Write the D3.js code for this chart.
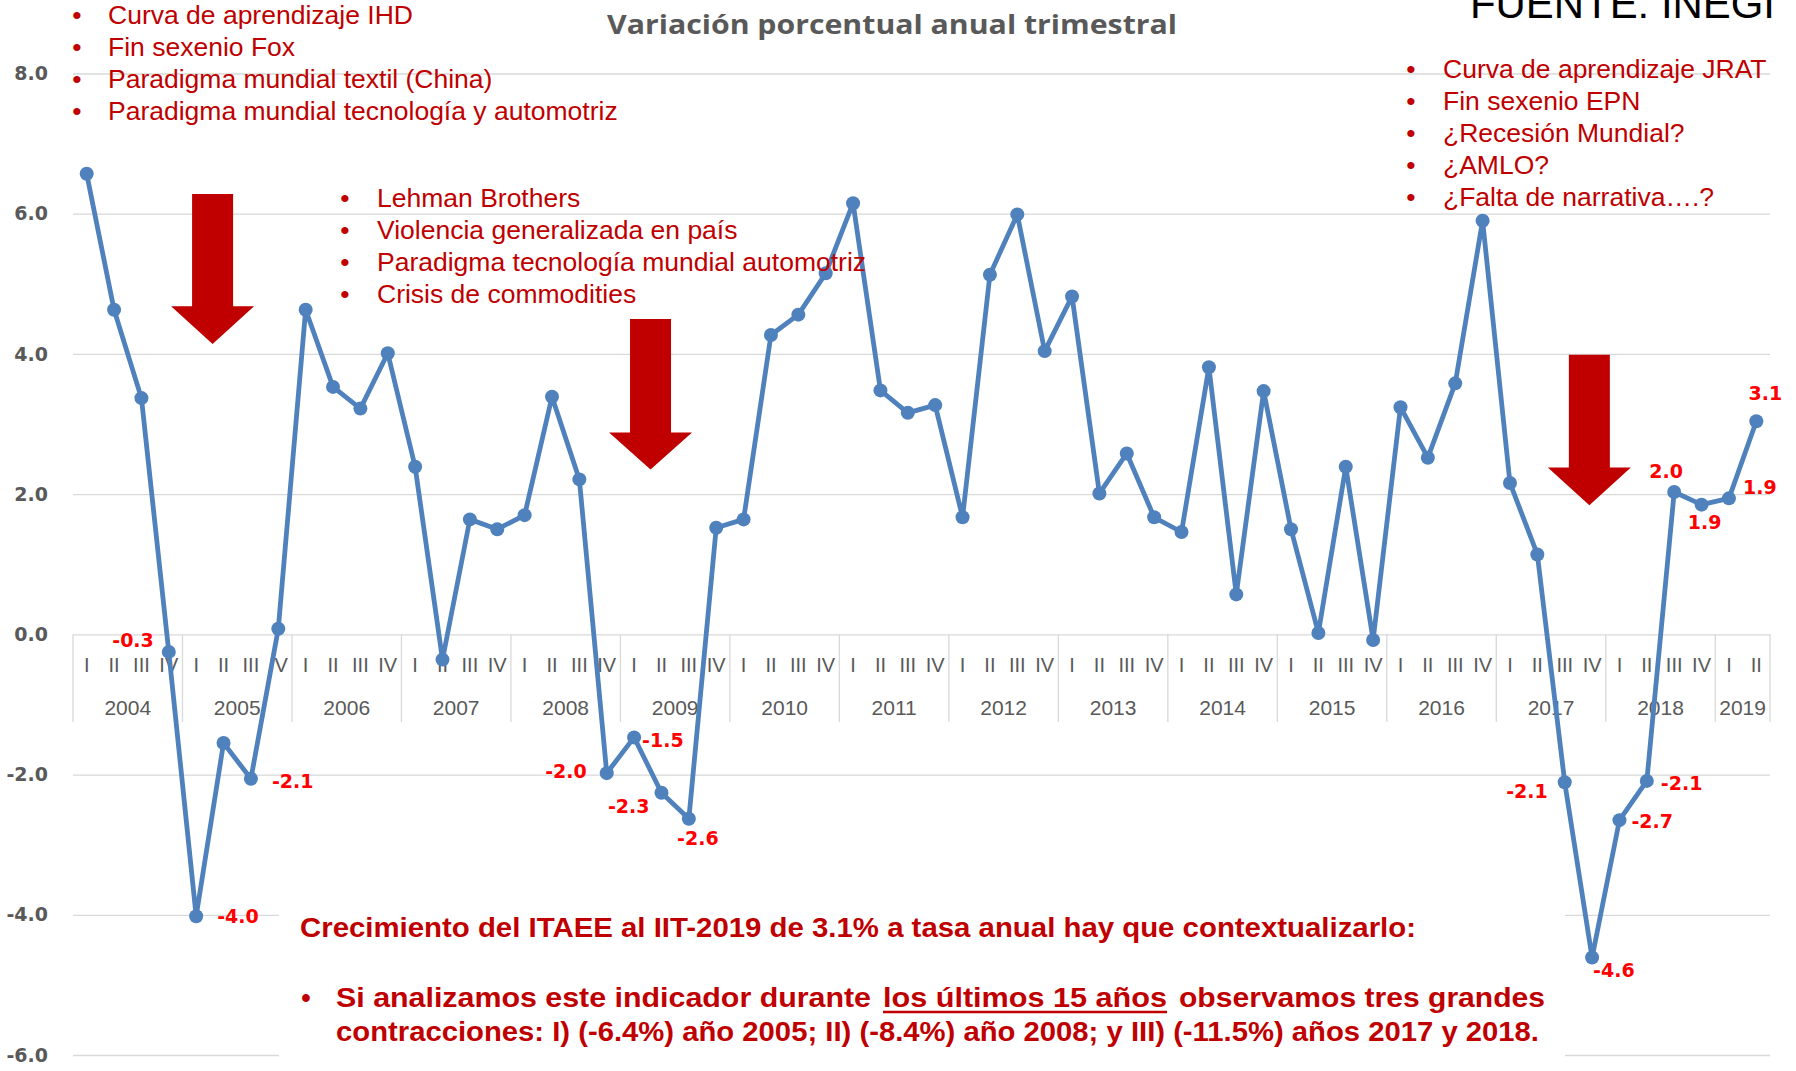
<!DOCTYPE html>
<html>
<head>
<meta charset="utf-8">
<script src="https://cdn.jsdelivr.net/npm/d3@7.9.0/dist/d3.min.js"></script>
<style>
  html, body { margin: 0; padding: 0; background: #fff; }
  svg { display: block; }
</style>
</head>
<body>
<svg id="chart" width="1796" height="1071"></svg>
<script>
// data
const years = ['2004', '2005', '2006', '2007', '2008', '2009', '2010', '2011',
  '2012', '2013', '2014', '2015', '2016', '2017', '2018', '2019'];
const quarters = ['I', 'II', 'III', 'IV'];
const values = [
  6.57, 4.63, 3.37, -0.25,
  -4.02, -1.55, -2.06, 0.08,
  4.63, 3.53, 3.22, 4.01,
  2.39, -0.36, 1.64, 1.50,
  1.70, 3.39, 2.21, -1.98,
  -1.47, -2.26, -2.63, 1.52,
  1.64, 4.27, 4.56, 5.15,
  6.15, 3.48, 3.16, 3.27,
  1.67, 5.13, 5.99, 4.04,
  4.82, 2.01, 2.58, 1.67,
  1.46, 3.81, 0.57, 3.47,
  1.50, 0.02, 2.39, -0.08,
  3.24, 2.52, 3.58, 5.90,
  2.16, 1.14, -2.11, -4.61,
  -2.65, -2.09, 2.03, 1.85,
  1.94, 3.04
];
const yTicks = [8, 6, 4, 2, 0, -2, -4, -6];
const labelIdx  = [3, 4, 6, 19, 20, 21, 22, 54, 55, 56, 57, 58, 59, 60, 61];
const labelText = ['-0.3', '-4.0', '-2.1', '-2.0', '-1.5', '-2.3', '-2.6',
  '-2.1', '-4.6', '-2.7', '-2.1', '2.0', '1.9', '1.9', '3.1'];

const title = 'Variación porcentual anual trimestral';
const source = 'FUENTE: INEGI';
const notesLeft = ['Curva de aprendizaje IHD', 'Fin sexenio Fox',
  'Paradigma mundial textil (China)', 'Paradigma mundial tecnología y automotriz'];
const notesMiddle = ['Lehman Brothers', 'Violencia generalizada en país',
  'Paradigma tecnología mundial automotriz', 'Crisis de commodities'];
const notesRight = ['Curva de aprendizaje JRAT', 'Fin sexenio EPN',
  '¿Recesión Mundial?', '¿AMLO?', '¿Falta de narrativa….?'];
const summary = 'Crecimiento del ITAEE al IIT-2019 de 3.1% a tasa anual hay que contextualizarlo:';
const bulletParts = ['Si analizamos este indicador durante', 'los últimos 15 años', 'observamos tres grandes'];
const bulletLine2 = 'contracciones: I) (-6.4%) año 2005; II) (-8.4%) año 2008; y III) (-11.5%) años 2017 y 2018.';

// arrows: position in category units, values in chart units
const arrowAt   = [4.6, 20.6, 54.9];
const arrowTop  = [6.28, 4.50, 3.99];
const arrowNeck = [4.68, 2.88, 2.38];
const arrowTip  = [4.14, 2.35, 1.84];

const svg = d3.select('#chart');
const left = 73, right = 1770;

const x = d3.scalePoint()
  .domain(d3.range(values.length))
  .range([left, right])
  .padding(0.5);
const step = x.step();
const y = d3.scaleLinear().domain([-6, 8]).range([1055, 73.5]);

const red = '#c00000';
const blue = '#4f81bd';
const gray = '#595959';
const fmt = d => d3.format('.1f')(d).replace('−', '-');

svg.append('rect').attr('width', 1796).attr('height', 1071).attr('fill', '#fff');

// grid + y labels
const yAxis = svg.append('g')
  .attr('transform', `translate(${left},0)`)
  .call(d3.axisLeft(y)
    .tickValues(yTicks)
    .tickSize(-(right - left))
    .tickPadding(25)
    .tickFormat(fmt));
yAxis.select('.domain').remove();
yAxis.selectAll('line').attr('stroke', '#d9d9d9').attr('stroke-width', 1.3);
yAxis.selectAll('text')
  .attr('fill', gray)
  .style('font', 'bold 19px "DejaVu Sans"');

// x axis: year separators
const y0 = y(0);
const yearStart = years.map((d, k) => x(k * 4) - step / 2);
const yearEnd = years.map((d, k) => Math.min(x(Math.min(k * 4 + 3, values.length - 1)) + step / 2, right));
svg.append('g').selectAll('line')
  .data(yearStart.concat([yearEnd[yearEnd.length - 1]]))
  .join('line')
  .attr('x1', d => d).attr('x2', d => d)
  .attr('y1', y0).attr('y2', 722)
  .attr('stroke', '#d9d9d9').attr('stroke-width', 1.3);

svg.append('g').selectAll('text')
  .data(values)
  .join('text')
  .attr('x', (d, i) => x(i))
  .attr('y', 665)
  .attr('text-anchor', 'middle')
  .attr('dominant-baseline', 'central')
  .attr('fill', gray)
  .style('font', '20px "Liberation Sans"')
  .text((d, i) => quarters[i % 4]);

svg.append('g').selectAll('text')
  .data(years)
  .join('text')
  .attr('x', (d, k) => (yearStart[k] + yearEnd[k]) / 2)
  .attr('y', 707)
  .attr('text-anchor', 'middle')
  .attr('dominant-baseline', 'central')
  .attr('fill', gray)
  .style('font', '21px "Liberation Sans"')
  .text(d => d);

// white box behind the summary text
svg.append('rect')
  .attr('x', 279).attr('y', 888).attr('width', 1565 - 279).attr('height', 1071 - 888)
  .attr('fill', '#fff');

// arrows
svg.append('g').selectAll('path')
  .data(arrowAt)
  .join('path')
  .attr('fill', red)
  .attr('d', (a, i) => {
    const cx = x(Math.floor(a)) + (a - Math.floor(a)) * step;
    const t = y(arrowTop[i]), n = y(arrowNeck[i]), p = y(arrowTip[i]);
    return `M${cx - 20.5},${t}H${cx + 20.5}V${n}H${cx + 41.5}L${cx},${p}L${cx - 41.5},${n}H${cx - 20.5}Z`;
  });

// series
svg.append('path')
  .datum(values)
  .attr('fill', 'none')
  .attr('stroke', blue)
  .attr('stroke-width', 4.8)
  .attr('stroke-linejoin', 'round')
  .attr('d', d3.line().x((d, i) => x(i)).y(d => y(d)));

svg.append('g').selectAll('circle')
  .data(values)
  .join('circle')
  .attr('cx', (d, i) => x(i))
  .attr('cy', d => y(d))
  .attr('r', 7)
  .attr('fill', blue);

// data labels: [dx, dy, anchor]
const labelPlace = [
  [-15, -12, 'end'], [21, 0, 'start'], [21, 2, 'start'], [-20, -2, 'end'],
  [8, 3, 'start'], [-12, 13, 'end'], [9, 19, 'middle'], [-17, 9, 'end'],
  [1, 12, 'start'], [12, 1, 'start'], [14, 2, 'start'], [-8, -21, 'middle'],
  [3, 17, 'middle'], [14, -11, 'start'], [9, -28, 'middle']
];
svg.append('g').selectAll('text')
  .data(labelIdx)
  .join('text')
  .attr('x', (d, j) => x(d) + labelPlace[j][0])
  .attr('y', (d, j) => y(values[d]) + labelPlace[j][1])
  .attr('text-anchor', (d, j) => labelPlace[j][2])
  .attr('dominant-baseline', 'central')
  .attr('fill', '#ff0000')
  .style('font', 'bold 19px "DejaVu Sans"')
  .text((d, j) => labelText[j]);

// title and source
svg.append('text')
  .attr('x', 892).attr('y', 23)
  .attr('text-anchor', 'middle')
  .attr('dominant-baseline', 'central')
  .attr('fill', gray)
  .attr('textLength', 570).attr('lengthAdjust', 'spacingAndGlyphs')
  .style('font', 'bold 27px "Open Sans"')
  .text(title);

svg.append('text')
  .attr('x', 1470).attr('y', 18)
  .attr('fill', '#000')
  .attr('textLength', 305).attr('lengthAdjust', 'spacingAndGlyphs')
  .style('font', '42px "Liberation Sans"')
  .text(source);

// bullet notes
function notes(list, bx, tx, y1) {
  const g = svg.append('g').style('font', '26.5px "Liberation Sans"').attr('fill', red);
  g.selectAll('text.b').data(list).join('text')
    .attr('class', 'b')
    .attr('x', bx).attr('y', (d, i) => y1 + i * 32)
    .attr('text-anchor', 'middle').attr('dominant-baseline', 'central')
    .text('•');
  g.selectAll('text.t').data(list).join('text')
    .attr('class', 't')
    .attr('x', tx).attr('y', (d, i) => y1 + i * 32)
    .attr('dominant-baseline', 'central')
    .text(d => d);
}
notes(notesLeft, 77, 108, 15);
notes(notesMiddle, 345, 377, 198);
notes(notesRight, 1411, 1443, 69);

// summary text
const sum = svg.append('g')
  .attr('fill', red)
  .style('font', 'bold 27px "Liberation Sans Narrow", "Liberation Sans"');
sum.append('text')
  .attr('x', 300).attr('y', 928).attr('dominant-baseline', 'central')
  .attr('textLength', 1116).attr('lengthAdjust', 'spacingAndGlyphs')
  .text(summary);
sum.append('text')
  .attr('x', 306).attr('y', 998).attr('dominant-baseline', 'central')
  .attr('text-anchor', 'middle')
  .text('•');
const partX = [336, 883, 1179];
const partW = [535, 284, 366];
sum.selectAll('text.part').data(bulletParts).join('text')
  .attr('class', 'part')
  .attr('x', (d, i) => partX[i]).attr('y', 998).attr('dominant-baseline', 'central')
  .attr('textLength', (d, i) => partW[i]).attr('lengthAdjust', 'spacingAndGlyphs')
  .text(d => d);
sum.append('line')
  .attr('x1', 883).attr('x2', 1167).attr('y1', 1012).attr('y2', 1012)
  .attr('stroke', red).attr('stroke-width', 2.6);
sum.append('text')
  .attr('x', 336).attr('y', 1032).attr('dominant-baseline', 'central')
  .attr('textLength', 1203).attr('lengthAdjust', 'spacingAndGlyphs')
  .text(bulletLine2);
</script>
</body>
</html>
